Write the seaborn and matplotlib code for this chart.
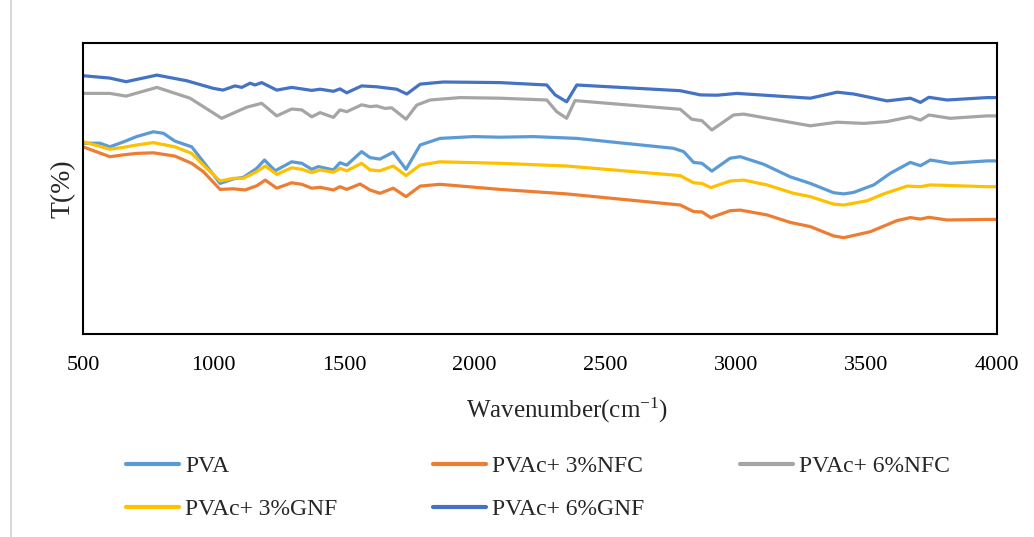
import numpy as np
import pandas as pd
import matplotlib
matplotlib.use("Agg")
import matplotlib.pyplot as plt
from matplotlib.lines import Line2D
import seaborn as sns

# ==============================
# DATA (T in arbitrary %)
# ==============================
series_names = ["PVA", "PVAc+ 3%NFC", "PVAc+ 6%NFC", "PVAc+ 3%GNF", "PVAc+ 6%GNF"]
series_colors = ["#5B9BD5", "#ED7D31", "#A5A5A5", "#FFC000", "#4472C4"]

pva_wn = [500, 565, 603, 654, 705, 769, 808, 852, 916, 961, 1025, 1076, 1114, 1165, 1195,
          1236, 1299, 1338, 1376, 1401, 1459, 1484, 1510, 1567, 1599, 1637, 1688, 1737, 1791,
          1867, 1995, 2097, 2225, 2391, 2761, 2800, 2838, 2870, 2908, 2978, 3017, 3106, 3208,
          3285, 3374, 3413, 3451, 3528, 3592, 3668, 3707, 3745, 3821, 3962, 4000]
pva_t = [63.6, 63.6, 62.4, 64.0, 65.8, 67.4, 66.9, 64.3, 62.4, 57.4, 50.2, 51.7, 52.2, 55.2, 58.0,
         54.4, 57.4, 56.9, 54.9, 55.8, 54.7, 57.1, 56.3, 60.8, 58.8, 58.3, 60.6, 54.9, 63.0,
         65.2, 65.8, 65.6, 65.8, 65.2, 61.9, 60.8, 57.2, 56.9, 54.3, 58.6, 59.1, 56.6, 52.4,
         50.2, 47.1, 46.7, 47.2, 49.7, 53.6, 57.2, 56.1, 58.0, 56.9, 57.7, 57.7]

nfc3_wn = [500, 603, 654, 705, 769, 852, 916, 961, 1025, 1076, 1120, 1165, 1198, 1242, 1299,
           1338, 1376, 1408, 1459, 1484, 1510, 1561, 1599, 1637, 1688, 1737, 1791, 1867, 2097,
           2352, 2787, 2838, 2870, 2904, 2978, 3017, 3119, 3208, 3285, 3374, 3413, 3515, 3617,
           3668, 3707, 3739, 3809, 3962, 4000]
nfc3_t = [62.4, 59.1, 59.7, 60.2, 60.4, 59.3, 56.9, 54.1, 48.2, 48.4, 48.0, 49.4, 51.3, 48.6, 50.4,
          49.9, 48.6, 48.9, 48.0, 49.1, 48.2, 50.0, 48.0, 46.9, 48.6, 45.8, 49.3, 49.9, 48.2,
          46.7, 43.0, 40.8, 40.7, 38.8, 41.1, 41.3, 39.7, 37.2, 35.8, 32.7, 32.1, 34.1, 37.8,
          38.8, 38.3, 38.9, 38.0, 38.2, 38.2]

nfc6_wn = [500, 603, 665, 783, 910, 1031, 1088, 1127, 1184, 1242, 1299, 1338, 1376, 1408, 1459,
           1484, 1510, 1567, 1599, 1625, 1656, 1682, 1737, 1778, 1829, 1944, 2097, 2276, 2314,
           2352, 2384, 2787, 2831, 2870, 2908, 2991, 3030, 3285, 3388, 3490, 3579, 3668, 3707,
           3739, 3821, 3962, 4000]
nfc6_t = [80.2, 80.2, 79.3, 82.2, 78.6, 71.9, 74.1, 75.6, 76.9, 72.7, 75.0, 74.7, 72.4, 73.8, 72.2,
          74.7, 74.1, 76.4, 75.8, 76.0, 75.2, 75.4, 71.6, 76.3, 78.0, 78.8, 78.6, 78.0, 74.1,
          71.9, 77.8, 74.9, 71.6, 71.1, 68.0, 73.0, 73.3, 69.4, 70.6, 70.2, 70.8, 72.4, 71.3,
          73.0, 71.9, 72.7, 72.7]

gnf3_wn = [500, 603, 654, 705, 769, 852, 916, 961, 1025, 1076, 1114, 1165, 1198, 1242, 1299,
           1338, 1376, 1408, 1459, 1484, 1510, 1567, 1599, 1637, 1688, 1737, 1791, 1867, 2097,
           2352, 2787, 2838, 2870, 2904, 2978, 3030, 3119, 3221, 3285, 3374, 3413, 3502, 3566,
           3656, 3707, 3745, 3962, 4000]
gnf3_t = [64.1, 61.6, 62.2, 63.0, 63.8, 62.4, 60.2, 56.3, 51.0, 51.9, 51.9, 54.1, 56.0, 53.2, 55.4,
          54.9, 53.8, 54.7, 53.9, 55.2, 54.4, 56.9, 54.7, 54.4, 56.0, 52.8, 56.3, 57.4, 56.9,
          56.0, 52.8, 50.4, 50.2, 48.8, 51.0, 51.3, 49.7, 46.9, 45.8, 43.3, 43.0, 44.4, 46.7,
          49.3, 49.1, 49.7, 49.1, 49.1]

gnf6_wn = [500, 603, 665, 783, 898, 998, 1036, 1082, 1108, 1140, 1159, 1184, 1242, 1299, 1376,
           1408, 1459, 1484, 1510, 1567, 1625, 1701, 1740, 1791, 1880, 2097, 2276, 2308, 2352,
           2391, 2787, 2864, 2928, 3004, 3285, 3388, 3451, 3579, 3668, 3707, 3739, 3809, 3962,
           4000]
gnf6_t = [86.1, 85.3, 84.1, 86.3, 84.4, 81.9, 81.3, 82.7, 82.2, 83.6, 83.0, 83.8, 81.3, 82.2, 81.2,
          81.6, 80.9, 81.7, 80.4, 82.7, 82.4, 81.6, 80.0, 83.3, 84.0, 83.8, 83.0, 79.7, 77.4,
          83.0, 81.1, 79.7, 79.6, 80.2, 78.6, 80.6, 80.0, 77.7, 78.6, 77.2, 78.9, 78.0, 78.8,
          78.8]

wn_lists = [pva_wn, nfc3_wn, nfc6_wn, gnf3_wn, gnf6_wn]
t_lists = [pva_t, nfc3_t, nfc6_t, gnf3_t, gnf6_t]

df = pd.concat(
    [pd.DataFrame({"wavenumber": w, "T": t, "sample": name})
     for w, t, name in zip(wn_lists, t_lists, series_names)],
    ignore_index=True,
)

x_ticks = [500, 1000, 1500, 2000, 2500, 3000, 3500, 4000]

# ==============================
# STYLE
# ==============================
sns.set_style("white")
plt.rcParams["font.family"] = ["Liberation Serif", "DejaVu Serif"]
plt.rcParams["mathtext.fontset"] = "custom"
plt.rcParams["mathtext.rm"] = "Liberation Serif"
plt.rcParams["mathtext.it"] = "Liberation Serif:italic"

fig = plt.figure(figsize=(10.34, 5.37), dpi=100)
ax = fig.add_axes([83 / 1034, 1 - 334 / 537, 914 / 1034, 291 / 537])

sns.lineplot(
    data=df, x="wavenumber", y="T", hue="sample",
    hue_order=series_names, palette=series_colors,
    estimator=None, sort=False, linewidth=2.3, ax=ax, legend=False,
)

ax.set_xlim(500, 4000)
ax.set_ylim(0, 97)
ax.set_xticks(x_ticks)
ax.set_yticks([])
ax.tick_params(axis="x", direction="out", length=5, width=1.5, pad=11,
               labelsize=16, colors="black")
for side in ["left", "right", "top", "bottom"]:
    ax.spines[side].set_visible(True)
    ax.spines[side].set_color("black")
    ax.spines[side].set_linewidth(1.5)

ax.set_xlabel("Wavenumber(cm$^{\\mathrm{-1}}$)", fontsize=18, labelpad=15)
ax.xaxis.label.set_x(0.53)
ax.set_ylabel("T(%)", fontsize=20, labelpad=5)

# legend, row-major order like the Excel original
handles = [Line2D([], [], color=c, linewidth=3) for c in series_colors]
order = [0, 3, 1, 4, 2]
fig.legend(
    [handles[i] for i in order], [series_names[i] for i in order],
    ncol=3, frameon=False, loc="center left",
    bbox_to_anchor=(126 / 1034, 1 - 488 / 537),
    fontsize=17, handlelength=2.25, handletextpad=0.25,
    columnspacing=4.05, labelspacing=0.9, borderpad=0, borderaxespad=0,
)

# thin grey frame line at the left edge
fig.add_artist(Line2D([11 / 1034, 11 / 1034], [0, 1], color="#d9d9d9", linewidth=1.5))

fig.savefig("out.png", dpi=100)
